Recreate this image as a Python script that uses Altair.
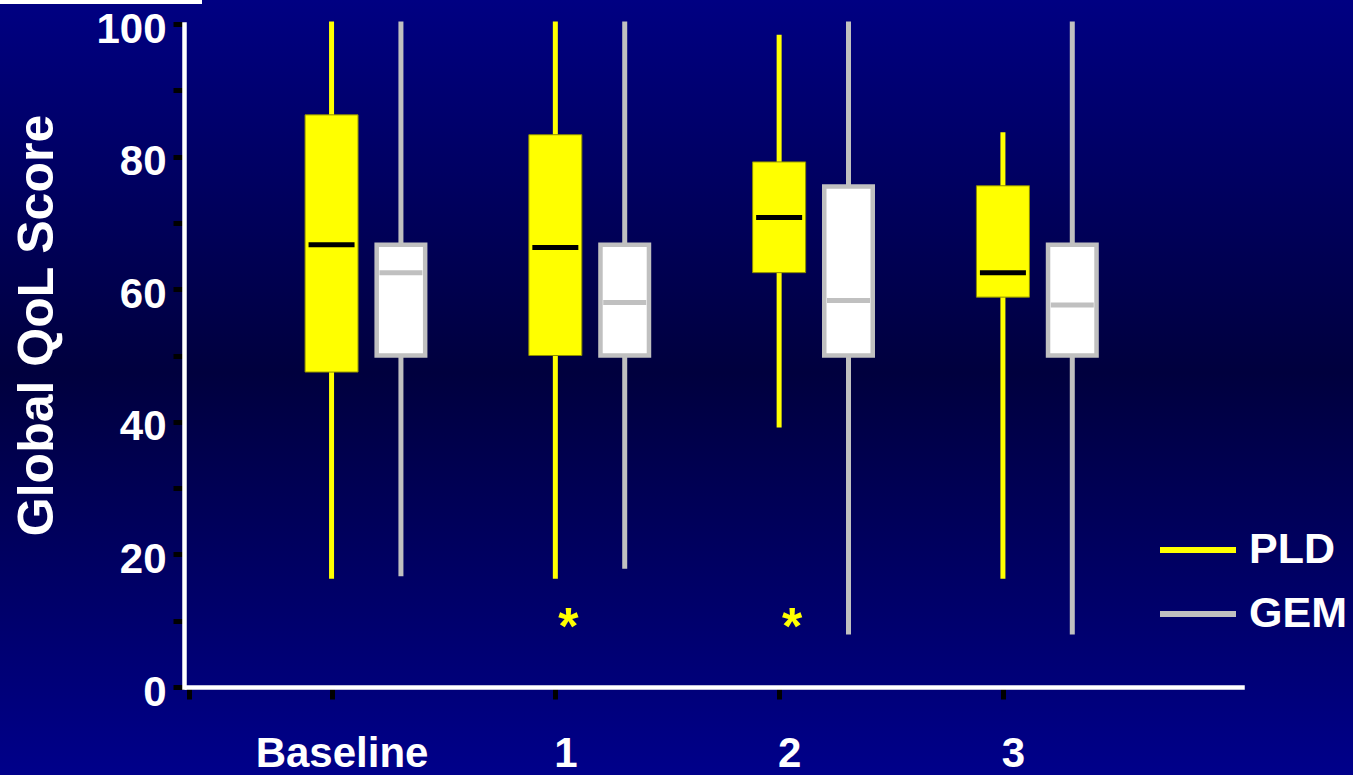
import json

import altair as alt
import pandas as pd

# ---- data -----------------------------------------------------------------
visits = ["Baseline", "1", "2", "3"]
treatments = ["PLD", "GEM"]

pld_max = [100.0, 100.0, 98.0, 83.3]
pld_q3 = [86.3, 83.3, 79.2, 75.6]
pld_median = [66.7, 66.3, 70.8, 62.5]
pld_q1 = [47.5, 50.0, 62.5, 58.8]
pld_min = [16.7, 16.7, 39.5, 16.7]

gem_max = [100.0, 100.0, 100.0, 100.0]
gem_q3 = [66.7, 66.7, 75.5, 66.7]
gem_median = [62.5, 58.0, 58.3, 57.6]
gem_q1 = [50.0, 50.0, 50.0, 50.0]
gem_min = [17.1, 18.2, 8.3, 8.3]

# visits with a significant PLD vs GEM difference, and the score level of the marker
significant_visits = ["1", "2"]
marker_level = 10.0

y_ticks = list(range(0, 101, 10))

# ---- styling ----------------------------------------------------------------
FONT = "Liberation Sans"
YELLOW = "#FFFF00"
GREY = "#C0C0C0"
X_MIN, X_MAX = -0.637, 4.046
GEM_SHIFT = 0.31

rows = []
for i, v in enumerate(visits):
    rows.append(dict(visit=v, idx=i, treatment="PLD", lo=pld_min[i], q1=pld_q1[i],
                     median=pld_median[i], q3=pld_q3[i], hi=pld_max[i]))
    rows.append(dict(visit=v, idx=i, treatment="GEM", lo=gem_min[i], q1=gem_q1[i],
                     median=gem_median[i], q3=gem_q3[i], hi=gem_max[i]))
boxes = pd.DataFrame(rows)

stars = pd.DataFrame({
    "visit": significant_visits,
    "idx": [visits.index(v) for v in significant_visits],
    "level": [marker_level] * len(significant_visits),
})

label_expr = "datum.value < 0 ? '' : " + json.dumps(visits) + "[round(datum.value)]"

x_axis = alt.Axis(
    values=[X_MIN, 0, 1, 2, 3], labelExpr=label_expr, title=None, grid=False,
    domainColor="white", domainWidth=4.5, domainCap="square",
    tickColor="black", tickWidth=5, tickSize=12,
    labelFont=FONT, labelFontSize=42, labelFontWeight="bold", labelColor="white",
    labelBaseline="alphabetic", labelPadding=67, labelOffset=10,
    labelFlush=False, labelOverlap=False, zindex=1,
)
y_axis = alt.Axis(
    values=y_ticks, labelExpr="datum.value % 20 == 0 ? datum.label : ''", grid=False,
    domainColor="white", domainWidth=4.5, domainCap="square",
    tickColor="black", tickWidth=5, tickSize=11,
    labelFont=FONT, labelFontSize=42, labelFontWeight="bold", labelColor="white",
    labelBaseline="alphabetic", labelPadding=7, labelOffset=18,
    labelFlush=False, labelOverlap=False,
    titleFont=FONT, titleFontSize=50, titleFontWeight="bold", titleColor="white",
    titleAngle=270, titleAlign="center", titleBaseline="alphabetic",
    titleX=-132, titleY=301, zindex=1,
)

x_scale = alt.Scale(domain=[X_MIN, X_MAX], nice=False, zero=False)
y_scale = alt.Scale(domain=[0, 100], nice=False, zero=True)
TITLE = "Global QoL Score"


def xq():
    return alt.X("pos:Q", scale=x_scale, axis=x_axis)


def yq(field):
    return alt.Y(f"{field}:Q", scale=y_scale, axis=y_axis, title=TITLE)


base = alt.Chart(boxes).transform_calculate(
    pos=f"datum.idx + (datum.treatment == 'GEM' ? {GEM_SHIFT} : 0)"
)

# slide background: navy, darker towards the middle
background = alt.Chart(pd.DataFrame({"k": [0]})).mark_rect(
    color=alt.LinearGradient(
        gradient="linear", x1=0, x2=0, y1=0, y2=1,
        stops=[alt.GradientStop(color="#000082", offset=0),
               alt.GradientStop(color="#00003E", offset=0.48),
               alt.GradientStop(color="#00008A", offset=1)],
    )
).encode(x=alt.value(-184), x2=alt.value(1169), y=alt.value(-24), y2=alt.value(751))

top_strip = alt.Chart(pd.DataFrame({"k": [0]})).mark_rule(
    color="white", strokeWidth=4
).encode(x=alt.value(-184), x2=alt.value(18), y=alt.value(-22))

whiskers = base.mark_rule(strokeWidth=5, strokeCap="square").encode(
    x=xq(), y=yq("lo"), y2=alt.Y2("hi:Q"),
    color=alt.Color(
        "treatment:N",
        scale=alt.Scale(domain=treatments, range=[YELLOW, GREY]),
        legend=alt.Legend(
            orient="none", legendX=973, legendY=504, title=None,
            symbolType="stroke", symbolSize=5776, symbolStrokeWidth=6,
            labelFont=FONT, labelFontSize=43, labelFontWeight="bold",
            labelColor="white", labelOffset=10, labelLimit=0,
            clipHeight=44, rowPadding=20,
        ),
    ),
)

pld_boxes = base.transform_filter("datum.treatment == 'PLD'").mark_bar(
    size=53, color=YELLOW, stroke="#8C8C00", strokeWidth=1, opacity=1
).encode(x=xq(), y=yq("q1"), y2=alt.Y2("q3:Q"))

gem_boxes = base.transform_filter("datum.treatment == 'GEM'").mark_bar(
    size=48.5, fill="white", stroke=GREY, strokeWidth=4.5, opacity=1
).encode(x=xq(), y=yq("q1"), y2=alt.Y2("q3:Q"))

pld_medians = base.transform_filter("datum.treatment == 'PLD'").mark_tick(
    orient="horizontal", size=46, thickness=5, color="black", opacity=1
).encode(x=xq(), y=yq("median"))

gem_medians = base.transform_filter("datum.treatment == 'GEM'").mark_tick(
    orient="horizontal", size=43, thickness=5, color=GREY, opacity=1
).encode(x=xq(), y=yq("median"))

markers = alt.Chart(stars).transform_calculate(pos="datum.idx").mark_text(
    text="*", font=FONT, fontSize=52, fontWeight="bold", color=YELLOW,
    baseline="alphabetic", align="center", dx=13, dy=23,
).encode(x=xq(), y=yq("level"))

chart = alt.layer(
    background, top_strip, whiskers, pld_boxes, gem_boxes, pld_medians, gem_medians, markers
).properties(
    width=1058, height=663,
    autosize=alt.AutoSizeParams(type="none"),
    padding={"left": 184, "top": 24, "right": 111, "bottom": 88},
    background="#000060",
).configure_view(stroke=None)

chart.save("out.html", embed_options={"renderer": "svg", "actions": False})
